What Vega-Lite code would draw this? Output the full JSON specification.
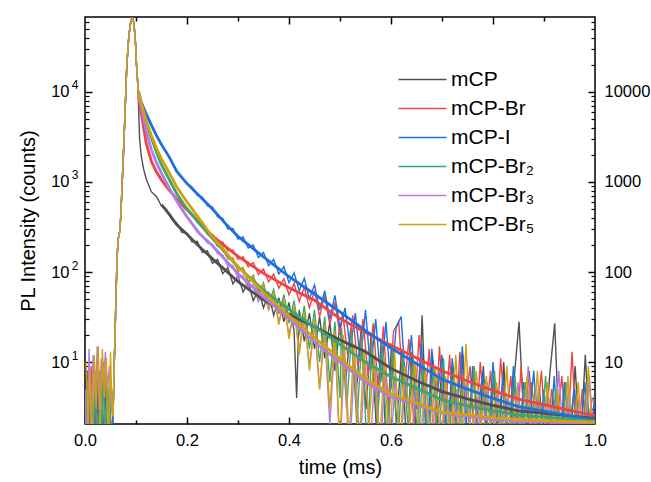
{
"$schema":"https://vega.github.io/schema/vega-lite/v6.json",
"width":510,"height":407,
"autosize":{"type":"none"},
"padding":{"left":85,"top":17,"right":56,"bottom":58},
"config":{"font":"Liberation Sans","view":{"stroke":"#000","strokeWidth":1.5},"axis":{"grid":false,"domain":false,"labelColor":"#000","titleColor":"#000","tickColor":"#000"}},
"datasets":{
"raw":[
{"s":"mCP","t":0,"v":1},{"s":"mCP","t":0.004,"v":8},{"s":"mCP","t":0.008,"v":1},{"s":"mCP","t":0.012,"v":6},{"s":"mCP","t":0.016,"v":10},{"s":"mCP","t":0.02,"v":1},{"s":"mCP","t":0.024,"v":5},{"s":"mCP","t":0.028,"v":1},{"s":"mCP","t":0.032,"v":9},{"s":"mCP","t":0.036,"v":1},{"s":"mCP","t":0.04,"v":7},{"s":"mCP","t":0.044,"v":1},{"s":"mCP","t":0.048,"v":4},{"s":"mCP","t":0.052,"v":1},
{"s":"mCP","t":0.055,"v":2.5},{"s":"mCP","t":0.057,"v":8},{"s":"mCP","t":0.059,"v":21},{"s":"mCP","t":0.061,"v":60},{"s":"mCP","t":0.063,"v":150},{"s":"mCP","t":0.065,"v":230},{"s":"mCP","t":0.068,"v":280},{"s":"mCP","t":0.07,"v":400},{"s":"mCP","t":0.073,"v":1000},{"s":"mCP","t":0.076,"v":2500},{"s":"mCP","t":0.079,"v":7000},{"s":"mCP","t":0.082,"v":20000},{"s":"mCP","t":0.086,"v":42000},{"s":"mCP","t":0.09,"v":62000},{"s":"mCP","t":0.093,"v":66000},{"s":"mCP","t":0.096,"v":58000},{"s":"mCP","t":0.099,"v":35000},{"s":"mCP","t":0.101,"v":20000},{"s":"mCP","t":0.104,"v":11000},
{"s":"mCP","t":0.107,"v":3000},{"s":"mCP","t":0.11,"v":2000},{"s":"mCP","t":0.115,"v":1380},{"s":"mCP","t":0.12,"v":1080},{"s":"mCP","t":0.13,"v":780},{"s":"mCP","t":0.14,"v":690},{"s":"mCP","t":0.15,"v":540},{"s":"mCP","t":0.16,"v":495},{"s":"mCP","t":0.17,"v":385},{"s":"mCP","t":0.18,"v":350},{"s":"mCP","t":0.19,"v":275},{"s":"mCP","t":0.2,"v":270},
{"s":"mCP","t":0.21,"v":215},{"s":"mCP","t":0.22,"v":220},{"s":"mCP","t":0.23,"v":165},{"s":"mCP","t":0.24,"v":172},{"s":"mCP","t":0.25,"v":125},{"s":"mCP","t":0.26,"v":138},{"s":"mCP","t":0.27,"v":96},{"s":"mCP","t":0.28,"v":112},{"s":"mCP","t":0.29,"v":74},{"s":"mCP","t":0.3,"v":90},{"s":"mCP","t":0.31,"v":60},{"s":"mCP","t":0.32,"v":76},{"s":"mCP","t":0.33,"v":48},{"s":"mCP","t":0.34,"v":64},{"s":"mCP","t":0.35,"v":40},{"s":"mCP","t":0.36,"v":58},{"s":"mCP","t":0.37,"v":33},{"s":"mCP","t":0.38,"v":52},{"s":"mCP","t":0.39,"v":28},{"s":"mCP","t":0.4,"v":46},{"s":"mCP","t":0.41,"v":22},{"s":"mCP","t":0.415,"v":4},{"s":"mCP","t":0.42,"v":38},{"s":"mCP","t":0.43,"v":17},{"s":"mCP","t":0.44,"v":35},{"s":"mCP","t":0.45,"v":14},{"s":"mCP","t":0.46,"v":32},{"s":"mCP","t":0.47,"v":11},{"s":"mCP","t":0.48,"v":28},{"s":"mCP","t":0.49,"v":8},{"s":"mCP","t":0.5,"v":26},
{"s":"mCP","t":0.511,"v":6},{"s":"mCP","t":0.521,"v":24},{"s":"mCP","t":0.531,"v":4},{"s":"mCP","t":0.541,"v":22},{"s":"mCP","t":0.551,"v":3},{"s":"mCP","t":0.561,"v":20},{"s":"mCP","t":0.571,"v":2},{"s":"mCP","t":0.581,"v":18},{"s":"mCP","t":0.591,"v":1},{"s":"mCP","t":0.601,"v":16},{"s":"mCP","t":0.611,"v":2},{"s":"mCP","t":0.621,"v":14},{"s":"mCP","t":0.631,"v":1},{"s":"mCP","t":0.641,"v":13},{"s":"mCP","t":0.651,"v":1},{"s":"mCP","t":0.661,"v":33},{"s":"mCP","t":0.671,"v":1},{"s":"mCP","t":0.681,"v":11},{"s":"mCP","t":0.691,"v":2},{"s":"mCP","t":0.701,"v":10},{"s":"mCP","t":0.711,"v":1},{"s":"mCP","t":0.721,"v":9},{"s":"mCP","t":0.731,"v":1},{"s":"mCP","t":0.741,"v":12},{"s":"mCP","t":0.751,"v":1},{"s":"mCP","t":0.761,"v":8},{"s":"mCP","t":0.771,"v":1},{"s":"mCP","t":0.781,"v":9},{"s":"mCP","t":0.791,"v":1},{"s":"mCP","t":0.801,"v":7},{"s":"mCP","t":0.811,"v":1},{"s":"mCP","t":0.821,"v":10},{"s":"mCP","t":0.831,"v":1},{"s":"mCP","t":0.841,"v":6},{"s":"mCP","t":0.851,"v":28},{"s":"mCP","t":0.861,"v":2},{"s":"mCP","t":0.871,"v":8},{"s":"mCP","t":0.881,"v":1},{"s":"mCP","t":0.891,"v":5},{"s":"mCP","t":0.901,"v":1},{"s":"mCP","t":0.911,"v":7},{"s":"mCP","t":0.921,"v":27},{"s":"mCP","t":0.931,"v":1},{"s":"mCP","t":0.941,"v":6},{"s":"mCP","t":0.951,"v":1},{"s":"mCP","t":0.961,"v":9},{"s":"mCP","t":0.971,"v":1},{"s":"mCP","t":0.981,"v":12},{"s":"mCP","t":0.991,"v":1},{"s":"mCP","t":1.0,"v":5},

{"s":"mCP-Br","t":0,"v":1},{"s":"mCP-Br","t":0.004,"v":3},{"s":"mCP-Br","t":0.008,"v":1},{"s":"mCP-Br","t":0.012,"v":9},{"s":"mCP-Br","t":0.016,"v":1},{"s":"mCP-Br","t":0.02,"v":5},{"s":"mCP-Br","t":0.024,"v":1},{"s":"mCP-Br","t":0.028,"v":8},{"s":"mCP-Br","t":0.032,"v":1},{"s":"mCP-Br","t":0.036,"v":10},{"s":"mCP-Br","t":0.04,"v":1},{"s":"mCP-Br","t":0.044,"v":6},{"s":"mCP-Br","t":0.048,"v":1},{"s":"mCP-Br","t":0.052,"v":2},
{"s":"mCP-Br","t":0.055,"v":2.5},{"s":"mCP-Br","t":0.057,"v":8},{"s":"mCP-Br","t":0.059,"v":21},{"s":"mCP-Br","t":0.061,"v":60},{"s":"mCP-Br","t":0.063,"v":150},{"s":"mCP-Br","t":0.065,"v":230},{"s":"mCP-Br","t":0.068,"v":280},{"s":"mCP-Br","t":0.07,"v":400},{"s":"mCP-Br","t":0.073,"v":1000},{"s":"mCP-Br","t":0.076,"v":2500},{"s":"mCP-Br","t":0.079,"v":7000},{"s":"mCP-Br","t":0.082,"v":20000},{"s":"mCP-Br","t":0.086,"v":42000},{"s":"mCP-Br","t":0.09,"v":62000},{"s":"mCP-Br","t":0.093,"v":66000},{"s":"mCP-Br","t":0.096,"v":58000},{"s":"mCP-Br","t":0.099,"v":35000},{"s":"mCP-Br","t":0.101,"v":20000},{"s":"mCP-Br","t":0.104,"v":11000},
{"s":"mCP-Br","t":0.107,"v":7600},{"s":"mCP-Br","t":0.11,"v":5900},{"s":"mCP-Br","t":0.115,"v":4100},{"s":"mCP-Br","t":0.12,"v":2700},{"s":"mCP-Br","t":0.13,"v":1700},{"s":"mCP-Br","t":0.14,"v":1300},{"s":"mCP-Br","t":0.15,"v":1050},{"s":"mCP-Br","t":0.16,"v":880},{"s":"mCP-Br","t":0.17,"v":750},{"s":"mCP-Br","t":0.18,"v":650},{"s":"mCP-Br","t":0.19,"v":560},{"s":"mCP-Br","t":0.2,"v":490},
{"s":"mCP-Br","t":0.21,"v":445},{"s":"mCP-Br","t":0.22,"v":362},{"s":"mCP-Br","t":0.23,"v":340},{"s":"mCP-Br","t":0.24,"v":275},{"s":"mCP-Br","t":0.25,"v":262},{"s":"mCP-Br","t":0.26,"v":215},{"s":"mCP-Br","t":0.27,"v":214},{"s":"mCP-Br","t":0.28,"v":172},{"s":"mCP-Br","t":0.29,"v":176},{"s":"mCP-Br","t":0.3,"v":138},{"s":"mCP-Br","t":0.31,"v":148},{"s":"mCP-Br","t":0.32,"v":114},{"s":"mCP-Br","t":0.33,"v":127},{"s":"mCP-Br","t":0.34,"v":94},{"s":"mCP-Br","t":0.35,"v":108},{"s":"mCP-Br","t":0.36,"v":78},{"s":"mCP-Br","t":0.37,"v":95},{"s":"mCP-Br","t":0.38,"v":66},{"s":"mCP-Br","t":0.39,"v":84},{"s":"mCP-Br","t":0.4,"v":56},{"s":"mCP-Br","t":0.41,"v":75},{"s":"mCP-Br","t":0.42,"v":47},{"s":"mCP-Br","t":0.43,"v":68},{"s":"mCP-Br","t":0.44,"v":40},{"s":"mCP-Br","t":0.45,"v":62},{"s":"mCP-Br","t":0.46,"v":32},{"s":"mCP-Br","t":0.47,"v":55},{"s":"mCP-Br","t":0.48,"v":26},{"s":"mCP-Br","t":0.49,"v":46},{"s":"mCP-Br","t":0.5,"v":20},
{"s":"mCP-Br","t":0.505,"v":36},{"s":"mCP-Br","t":0.515,"v":12},{"s":"mCP-Br","t":0.525,"v":33},{"s":"mCP-Br","t":0.535,"v":9},{"s":"mCP-Br","t":0.545,"v":30},{"s":"mCP-Br","t":0.555,"v":7},{"s":"mCP-Br","t":0.565,"v":27},{"s":"mCP-Br","t":0.575,"v":5},{"s":"mCP-Br","t":0.585,"v":25},{"s":"mCP-Br","t":0.595,"v":3},{"s":"mCP-Br","t":0.605,"v":22},{"s":"mCP-Br","t":0.615,"v":28},{"s":"mCP-Br","t":0.625,"v":4},{"s":"mCP-Br","t":0.635,"v":18},{"s":"mCP-Br","t":0.645,"v":2},{"s":"mCP-Br","t":0.655,"v":20},{"s":"mCP-Br","t":0.665,"v":3},{"s":"mCP-Br","t":0.675,"v":14},{"s":"mCP-Br","t":0.685,"v":1},{"s":"mCP-Br","t":0.695,"v":15},{"s":"mCP-Br","t":0.705,"v":2},{"s":"mCP-Br","t":0.715,"v":12},{"s":"mCP-Br","t":0.725,"v":1},{"s":"mCP-Br","t":0.735,"v":13},{"s":"mCP-Br","t":0.745,"v":3},{"s":"mCP-Br","t":0.755,"v":9},{"s":"mCP-Br","t":0.765,"v":1},{"s":"mCP-Br","t":0.775,"v":10},{"s":"mCP-Br","t":0.785,"v":2},{"s":"mCP-Br","t":0.795,"v":8},{"s":"mCP-Br","t":0.805,"v":1},{"s":"mCP-Br","t":0.815,"v":11},{"s":"mCP-Br","t":0.825,"v":2},{"s":"mCP-Br","t":0.835,"v":7},{"s":"mCP-Br","t":0.845,"v":1},{"s":"mCP-Br","t":0.855,"v":9},{"s":"mCP-Br","t":0.865,"v":1},{"s":"mCP-Br","t":0.875,"v":6},{"s":"mCP-Br","t":0.885,"v":2},{"s":"mCP-Br","t":0.895,"v":8},{"s":"mCP-Br","t":0.905,"v":1},{"s":"mCP-Br","t":0.915,"v":5},{"s":"mCP-Br","t":0.925,"v":2},{"s":"mCP-Br","t":0.935,"v":7},{"s":"mCP-Br","t":0.945,"v":1},{"s":"mCP-Br","t":0.955,"v":13},{"s":"mCP-Br","t":0.965,"v":1},{"s":"mCP-Br","t":0.975,"v":5},{"s":"mCP-Br","t":0.985,"v":2},{"s":"mCP-Br","t":0.995,"v":4},

{"s":"mCP-I","t":0,"v":2},{"s":"mCP-I","t":0.004,"v":1},{"s":"mCP-I","t":0.008,"v":7},{"s":"mCP-I","t":0.012,"v":1},{"s":"mCP-I","t":0.016,"v":4},{"s":"mCP-I","t":0.02,"v":1},{"s":"mCP-I","t":0.024,"v":9},{"s":"mCP-I","t":0.028,"v":1},{"s":"mCP-I","t":0.032,"v":3},{"s":"mCP-I","t":0.036,"v":1},{"s":"mCP-I","t":0.04,"v":8},{"s":"mCP-I","t":0.044,"v":1},{"s":"mCP-I","t":0.048,"v":5},{"s":"mCP-I","t":0.052,"v":1},
{"s":"mCP-I","t":0.055,"v":2.5},{"s":"mCP-I","t":0.057,"v":8},{"s":"mCP-I","t":0.059,"v":21},{"s":"mCP-I","t":0.061,"v":60},{"s":"mCP-I","t":0.063,"v":150},{"s":"mCP-I","t":0.065,"v":230},{"s":"mCP-I","t":0.068,"v":280},{"s":"mCP-I","t":0.07,"v":400},{"s":"mCP-I","t":0.073,"v":1000},{"s":"mCP-I","t":0.076,"v":2500},{"s":"mCP-I","t":0.079,"v":7000},{"s":"mCP-I","t":0.082,"v":20000},{"s":"mCP-I","t":0.086,"v":42000},{"s":"mCP-I","t":0.09,"v":62000},{"s":"mCP-I","t":0.093,"v":66000},{"s":"mCP-I","t":0.096,"v":58000},{"s":"mCP-I","t":0.099,"v":35000},{"s":"mCP-I","t":0.101,"v":20000},{"s":"mCP-I","t":0.104,"v":11000},
{"s":"mCP-I","t":0.107,"v":8800},{"s":"mCP-I","t":0.11,"v":7800},{"s":"mCP-I","t":0.115,"v":6700},{"s":"mCP-I","t":0.12,"v":5700},{"s":"mCP-I","t":0.13,"v":4300},{"s":"mCP-I","t":0.14,"v":3300},{"s":"mCP-I","t":0.15,"v":2600},{"s":"mCP-I","t":0.16,"v":2100},{"s":"mCP-I","t":0.17,"v":1700},{"s":"mCP-I","t":0.18,"v":1310},{"s":"mCP-I","t":0.19,"v":1110},{"s":"mCP-I","t":0.2,"v":960},
{"s":"mCP-I","t":0.21,"v":880},{"s":"mCP-I","t":0.22,"v":715},{"s":"mCP-I","t":0.23,"v":680},{"s":"mCP-I","t":0.24,"v":545},{"s":"mCP-I","t":0.25,"v":525},{"s":"mCP-I","t":0.26,"v":410},{"s":"mCP-I","t":0.27,"v":395},{"s":"mCP-I","t":0.28,"v":300},{"s":"mCP-I","t":0.29,"v":305},{"s":"mCP-I","t":0.3,"v":232},{"s":"mCP-I","t":0.31,"v":245},{"s":"mCP-I","t":0.32,"v":185},{"s":"mCP-I","t":0.33,"v":200},{"s":"mCP-I","t":0.34,"v":145},{"s":"mCP-I","t":0.35,"v":165},{"s":"mCP-I","t":0.36,"v":118},{"s":"mCP-I","t":0.37,"v":138},{"s":"mCP-I","t":0.38,"v":95},{"s":"mCP-I","t":0.39,"v":115},{"s":"mCP-I","t":0.4,"v":76},{"s":"mCP-I","t":0.41,"v":98},{"s":"mCP-I","t":0.42,"v":62},{"s":"mCP-I","t":0.43,"v":85},{"s":"mCP-I","t":0.44,"v":50},{"s":"mCP-I","t":0.45,"v":72},{"s":"mCP-I","t":0.46,"v":38},{"s":"mCP-I","t":0.47,"v":62},{"s":"mCP-I","t":0.48,"v":30},{"s":"mCP-I","t":0.49,"v":55},{"s":"mCP-I","t":0.5,"v":24},
{"s":"mCP-I","t":0.51,"v":40},{"s":"mCP-I","t":0.52,"v":14},{"s":"mCP-I","t":0.53,"v":35},{"s":"mCP-I","t":0.54,"v":10},{"s":"mCP-I","t":0.55,"v":38},{"s":"mCP-I","t":0.56,"v":8},{"s":"mCP-I","t":0.57,"v":30},{"s":"mCP-I","t":0.58,"v":6},{"s":"mCP-I","t":0.59,"v":28},{"s":"mCP-I","t":0.6,"v":5},{"s":"mCP-I","t":0.61,"v":24},{"s":"mCP-I","t":0.62,"v":32},{"s":"mCP-I","t":0.63,"v":4},{"s":"mCP-I","t":0.64,"v":20},{"s":"mCP-I","t":0.65,"v":3},{"s":"mCP-I","t":0.66,"v":16},{"s":"mCP-I","t":0.67,"v":1},{"s":"mCP-I","t":0.68,"v":14},{"s":"mCP-I","t":0.69,"v":4},{"s":"mCP-I","t":0.7,"v":12},{"s":"mCP-I","t":0.71,"v":1},{"s":"mCP-I","t":0.72,"v":11},{"s":"mCP-I","t":0.73,"v":3},{"s":"mCP-I","t":0.74,"v":15},{"s":"mCP-I","t":0.75,"v":1},{"s":"mCP-I","t":0.76,"v":9},{"s":"mCP-I","t":0.77,"v":2.5},{"s":"mCP-I","t":0.78,"v":8},{"s":"mCP-I","t":0.79,"v":1},{"s":"mCP-I","t":0.8,"v":10},{"s":"mCP-I","t":0.81,"v":2},{"s":"mCP-I","t":0.82,"v":7},{"s":"mCP-I","t":0.83,"v":1},{"s":"mCP-I","t":0.84,"v":9},{"s":"mCP-I","t":0.85,"v":1},{"s":"mCP-I","t":0.86,"v":6},{"s":"mCP-I","t":0.87,"v":2},{"s":"mCP-I","t":0.88,"v":8},{"s":"mCP-I","t":0.89,"v":1},{"s":"mCP-I","t":0.9,"v":5},{"s":"mCP-I","t":0.91,"v":1},{"s":"mCP-I","t":0.92,"v":7},{"s":"mCP-I","t":0.93,"v":1},{"s":"mCP-I","t":0.94,"v":6},{"s":"mCP-I","t":0.95,"v":2},{"s":"mCP-I","t":0.96,"v":5},{"s":"mCP-I","t":0.97,"v":1},{"s":"mCP-I","t":0.98,"v":6},{"s":"mCP-I","t":0.99,"v":1},{"s":"mCP-I","t":1.0,"v":4},

{"s":"mCP-Br₂","t":0,"v":1},{"s":"mCP-Br₂","t":0.004,"v":6},{"s":"mCP-Br₂","t":0.008,"v":1},{"s":"mCP-Br₂","t":0.012,"v":4},{"s":"mCP-Br₂","t":0.016,"v":1},{"s":"mCP-Br₂","t":0.02,"v":8},{"s":"mCP-Br₂","t":0.024,"v":1},{"s":"mCP-Br₂","t":0.028,"v":3},{"s":"mCP-Br₂","t":0.032,"v":1},{"s":"mCP-Br₂","t":0.036,"v":9},{"s":"mCP-Br₂","t":0.04,"v":1},{"s":"mCP-Br₂","t":0.044,"v":7},{"s":"mCP-Br₂","t":0.048,"v":1},{"s":"mCP-Br₂","t":0.052,"v":5},
{"s":"mCP-Br₂","t":0.055,"v":2.5},{"s":"mCP-Br₂","t":0.057,"v":8},{"s":"mCP-Br₂","t":0.059,"v":21},{"s":"mCP-Br₂","t":0.061,"v":60},{"s":"mCP-Br₂","t":0.063,"v":150},{"s":"mCP-Br₂","t":0.065,"v":230},{"s":"mCP-Br₂","t":0.068,"v":280},{"s":"mCP-Br₂","t":0.07,"v":400},{"s":"mCP-Br₂","t":0.073,"v":1000},{"s":"mCP-Br₂","t":0.076,"v":2500},{"s":"mCP-Br₂","t":0.079,"v":7000},{"s":"mCP-Br₂","t":0.082,"v":20000},{"s":"mCP-Br₂","t":0.086,"v":42000},{"s":"mCP-Br₂","t":0.09,"v":62000},{"s":"mCP-Br₂","t":0.093,"v":66000},{"s":"mCP-Br₂","t":0.096,"v":58000},{"s":"mCP-Br₂","t":0.099,"v":35000},{"s":"mCP-Br₂","t":0.101,"v":20000},{"s":"mCP-Br₂","t":0.104,"v":11000},
{"s":"mCP-Br₂","t":0.107,"v":9000},{"s":"mCP-Br₂","t":0.11,"v":7500},{"s":"mCP-Br₂","t":0.115,"v":5800},{"s":"mCP-Br₂","t":0.12,"v":4600},{"s":"mCP-Br₂","t":0.13,"v":3100},{"s":"mCP-Br₂","t":0.14,"v":2150},{"s":"mCP-Br₂","t":0.15,"v":1550},{"s":"mCP-Br₂","t":0.16,"v":1200},{"s":"mCP-Br₂","t":0.17,"v":940},{"s":"mCP-Br₂","t":0.18,"v":740},{"s":"mCP-Br₂","t":0.19,"v":600},{"s":"mCP-Br₂","t":0.2,"v":505},
{"s":"mCP-Br₂","t":0.21,"v":445},{"s":"mCP-Br₂","t":0.22,"v":355},{"s":"mCP-Br₂","t":0.23,"v":328},{"s":"mCP-Br₂","t":0.24,"v":262},{"s":"mCP-Br₂","t":0.25,"v":246},{"s":"mCP-Br₂","t":0.26,"v":192},{"s":"mCP-Br₂","t":0.27,"v":186},{"s":"mCP-Br₂","t":0.28,"v":140},{"s":"mCP-Br₂","t":0.29,"v":142},{"s":"mCP-Br₂","t":0.3,"v":102},{"s":"mCP-Br₂","t":0.31,"v":112},{"s":"mCP-Br₂","t":0.32,"v":78},{"s":"mCP-Br₂","t":0.33,"v":92},{"s":"mCP-Br₂","t":0.34,"v":58},{"s":"mCP-Br₂","t":0.35,"v":76},{"s":"mCP-Br₂","t":0.36,"v":44},{"s":"mCP-Br₂","t":0.37,"v":64},{"s":"mCP-Br₂","t":0.38,"v":34},{"s":"mCP-Br₂","t":0.39,"v":56},{"s":"mCP-Br₂","t":0.4,"v":27},{"s":"mCP-Br₂","t":0.41,"v":48},{"s":"mCP-Br₂","t":0.42,"v":20},{"s":"mCP-Br₂","t":0.43,"v":42},{"s":"mCP-Br₂","t":0.44,"v":14},{"s":"mCP-Br₂","t":0.45,"v":38},{"s":"mCP-Br₂","t":0.46,"v":10},{"s":"mCP-Br₂","t":0.47,"v":32},{"s":"mCP-Br₂","t":0.48,"v":6},{"s":"mCP-Br₂","t":0.49,"v":28},{"s":"mCP-Br₂","t":0.5,"v":4},
{"s":"mCP-Br₂","t":0.503,"v":24},{"s":"mCP-Br₂","t":0.513,"v":3},{"s":"mCP-Br₂","t":0.523,"v":22},{"s":"mCP-Br₂","t":0.533,"v":2},{"s":"mCP-Br₂","t":0.543,"v":19},{"s":"mCP-Br₂","t":0.553,"v":1},{"s":"mCP-Br₂","t":0.563,"v":17},{"s":"mCP-Br₂","t":0.573,"v":2},{"s":"mCP-Br₂","t":0.583,"v":15},{"s":"mCP-Br₂","t":0.593,"v":1},{"s":"mCP-Br₂","t":0.603,"v":14},{"s":"mCP-Br₂","t":0.613,"v":1},{"s":"mCP-Br₂","t":0.623,"v":12},{"s":"mCP-Br₂","t":0.633,"v":2},{"s":"mCP-Br₂","t":0.643,"v":11},{"s":"mCP-Br₂","t":0.653,"v":1},{"s":"mCP-Br₂","t":0.663,"v":10},{"s":"mCP-Br₂","t":0.673,"v":1},{"s":"mCP-Br₂","t":0.683,"v":9},{"s":"mCP-Br₂","t":0.693,"v":1},{"s":"mCP-Br₂","t":0.703,"v":11},{"s":"mCP-Br₂","t":0.713,"v":1},{"s":"mCP-Br₂","t":0.723,"v":8},{"s":"mCP-Br₂","t":0.733,"v":1},{"s":"mCP-Br₂","t":0.743,"v":7},{"s":"mCP-Br₂","t":0.753,"v":2},{"s":"mCP-Br₂","t":0.763,"v":9},{"s":"mCP-Br₂","t":0.773,"v":1},{"s":"mCP-Br₂","t":0.783,"v":6},{"s":"mCP-Br₂","t":0.793,"v":1},{"s":"mCP-Br₂","t":0.803,"v":8},{"s":"mCP-Br₂","t":0.813,"v":1},{"s":"mCP-Br₂","t":0.823,"v":5},{"s":"mCP-Br₂","t":0.833,"v":1},{"s":"mCP-Br₂","t":0.843,"v":7},{"s":"mCP-Br₂","t":0.853,"v":1},{"s":"mCP-Br₂","t":0.863,"v":6},{"s":"mCP-Br₂","t":0.873,"v":2},{"s":"mCP-Br₂","t":0.883,"v":5},{"s":"mCP-Br₂","t":0.893,"v":1},{"s":"mCP-Br₂","t":0.903,"v":7},{"s":"mCP-Br₂","t":0.913,"v":1},{"s":"mCP-Br₂","t":0.923,"v":5},{"s":"mCP-Br₂","t":0.933,"v":1},{"s":"mCP-Br₂","t":0.943,"v":6},{"s":"mCP-Br₂","t":0.953,"v":1},{"s":"mCP-Br₂","t":0.963,"v":4},{"s":"mCP-Br₂","t":0.973,"v":1},{"s":"mCP-Br₂","t":0.983,"v":5},{"s":"mCP-Br₂","t":0.993,"v":1},

{"s":"mCP-Br₃","t":0,"v":5},{"s":"mCP-Br₃","t":0.004,"v":1},{"s":"mCP-Br₃","t":0.008,"v":14},{"s":"mCP-Br₃","t":0.012,"v":2},{"s":"mCP-Br₃","t":0.016,"v":12},{"s":"mCP-Br₃","t":0.02,"v":4},{"s":"mCP-Br₃","t":0.024,"v":15},{"s":"mCP-Br₃","t":0.028,"v":3},{"s":"mCP-Br₃","t":0.032,"v":11},{"s":"mCP-Br₃","t":0.036,"v":6},{"s":"mCP-Br₃","t":0.04,"v":13},{"s":"mCP-Br₃","t":0.044,"v":5},{"s":"mCP-Br₃","t":0.048,"v":9},{"s":"mCP-Br₃","t":0.052,"v":3},
{"s":"mCP-Br₃","t":0.055,"v":2.5},{"s":"mCP-Br₃","t":0.057,"v":8},{"s":"mCP-Br₃","t":0.059,"v":21},{"s":"mCP-Br₃","t":0.061,"v":60},{"s":"mCP-Br₃","t":0.063,"v":150},{"s":"mCP-Br₃","t":0.065,"v":230},{"s":"mCP-Br₃","t":0.068,"v":280},{"s":"mCP-Br₃","t":0.07,"v":400},{"s":"mCP-Br₃","t":0.073,"v":1000},{"s":"mCP-Br₃","t":0.076,"v":2500},{"s":"mCP-Br₃","t":0.079,"v":7000},{"s":"mCP-Br₃","t":0.082,"v":20000},{"s":"mCP-Br₃","t":0.086,"v":42000},{"s":"mCP-Br₃","t":0.09,"v":62000},{"s":"mCP-Br₃","t":0.093,"v":66000},{"s":"mCP-Br₃","t":0.096,"v":58000},{"s":"mCP-Br₃","t":0.099,"v":35000},{"s":"mCP-Br₃","t":0.101,"v":20000},{"s":"mCP-Br₃","t":0.104,"v":11000},
{"s":"mCP-Br₃","t":0.107,"v":8500},{"s":"mCP-Br₃","t":0.11,"v":6800},{"s":"mCP-Br₃","t":0.115,"v":4800},{"s":"mCP-Br₃","t":0.12,"v":3700},{"s":"mCP-Br₃","t":0.13,"v":2300},{"s":"mCP-Br₃","t":0.14,"v":1650},{"s":"mCP-Br₃","t":0.15,"v":1250},{"s":"mCP-Br₃","t":0.16,"v":960},{"s":"mCP-Br₃","t":0.17,"v":760},{"s":"mCP-Br₃","t":0.18,"v":610},{"s":"mCP-Br₃","t":0.19,"v":490},{"s":"mCP-Br₃","t":0.2,"v":410},
{"s":"mCP-Br₃","t":0.21,"v":350},{"s":"mCP-Br₃","t":0.22,"v":276},{"s":"mCP-Br₃","t":0.23,"v":258},{"s":"mCP-Br₃","t":0.24,"v":210},{"s":"mCP-Br₃","t":0.25,"v":204},{"s":"mCP-Br₃","t":0.26,"v":160},{"s":"mCP-Br₃","t":0.27,"v":155},{"s":"mCP-Br₃","t":0.28,"v":116},{"s":"mCP-Br₃","t":0.29,"v":118},{"s":"mCP-Br₃","t":0.3,"v":85},{"s":"mCP-Br₃","t":0.31,"v":92},{"s":"mCP-Br₃","t":0.32,"v":63},{"s":"mCP-Br₃","t":0.33,"v":72},{"s":"mCP-Br₃","t":0.34,"v":47},{"s":"mCP-Br₃","t":0.35,"v":62},{"s":"mCP-Br₃","t":0.36,"v":38},{"s":"mCP-Br₃","t":0.37,"v":52},{"s":"mCP-Br₃","t":0.38,"v":28},{"s":"mCP-Br₃","t":0.39,"v":44},{"s":"mCP-Br₃","t":0.4,"v":20},{"s":"mCP-Br₃","t":0.41,"v":36},{"s":"mCP-Br₃","t":0.42,"v":14},{"s":"mCP-Br₃","t":0.43,"v":30},{"s":"mCP-Br₃","t":0.44,"v":9},{"s":"mCP-Br₃","t":0.45,"v":26},{"s":"mCP-Br₃","t":0.46,"v":5},{"s":"mCP-Br₃","t":0.47,"v":22},{"s":"mCP-Br₃","t":0.48,"v":2},{"s":"mCP-Br₃","t":0.49,"v":18},{"s":"mCP-Br₃","t":0.5,"v":1},
{"s":"mCP-Br₃","t":0.509,"v":14},{"s":"mCP-Br₃","t":0.519,"v":1},{"s":"mCP-Br₃","t":0.529,"v":12},{"s":"mCP-Br₃","t":0.539,"v":1},{"s":"mCP-Br₃","t":0.549,"v":10},{"s":"mCP-Br₃","t":0.559,"v":1},{"s":"mCP-Br₃","t":0.569,"v":9},{"s":"mCP-Br₃","t":0.579,"v":1},{"s":"mCP-Br₃","t":0.589,"v":8},{"s":"mCP-Br₃","t":0.599,"v":1},{"s":"mCP-Br₃","t":0.609,"v":7},{"s":"mCP-Br₃","t":0.619,"v":1},{"s":"mCP-Br₃","t":0.629,"v":9},{"s":"mCP-Br₃","t":0.639,"v":1},{"s":"mCP-Br₃","t":0.649,"v":6},{"s":"mCP-Br₃","t":0.659,"v":1},{"s":"mCP-Br₃","t":0.669,"v":7},{"s":"mCP-Br₃","t":0.679,"v":1},{"s":"mCP-Br₃","t":0.689,"v":5},{"s":"mCP-Br₃","t":0.699,"v":1},{"s":"mCP-Br₃","t":0.709,"v":6},{"s":"mCP-Br₃","t":0.719,"v":1},{"s":"mCP-Br₃","t":0.729,"v":5},{"s":"mCP-Br₃","t":0.739,"v":1},{"s":"mCP-Br₃","t":0.749,"v":7},{"s":"mCP-Br₃","t":0.759,"v":1},{"s":"mCP-Br₃","t":0.769,"v":4},{"s":"mCP-Br₃","t":0.779,"v":1},{"s":"mCP-Br₃","t":0.789,"v":6},{"s":"mCP-Br₃","t":0.799,"v":1},{"s":"mCP-Br₃","t":0.809,"v":5},{"s":"mCP-Br₃","t":0.819,"v":1},{"s":"mCP-Br₃","t":0.829,"v":4},{"s":"mCP-Br₃","t":0.839,"v":1},{"s":"mCP-Br₃","t":0.849,"v":6},{"s":"mCP-Br₃","t":0.859,"v":1},{"s":"mCP-Br₃","t":0.869,"v":9},{"s":"mCP-Br₃","t":0.879,"v":1},{"s":"mCP-Br₃","t":0.889,"v":5},{"s":"mCP-Br₃","t":0.899,"v":1},{"s":"mCP-Br₃","t":0.909,"v":4},{"s":"mCP-Br₃","t":0.919,"v":1},{"s":"mCP-Br₃","t":0.929,"v":8},{"s":"mCP-Br₃","t":0.939,"v":1},{"s":"mCP-Br₃","t":0.949,"v":5},{"s":"mCP-Br₃","t":0.959,"v":1},{"s":"mCP-Br₃","t":0.969,"v":4},{"s":"mCP-Br₃","t":0.979,"v":1},{"s":"mCP-Br₃","t":0.989,"v":7},{"s":"mCP-Br₃","t":0.999,"v":1},

{"s":"mCP-Br₅","t":0.002,"v":10},{"s":"mCP-Br₅","t":0.006,"v":2},{"s":"mCP-Br₅","t":0.01,"v":8},{"s":"mCP-Br₅","t":0.014,"v":1},{"s":"mCP-Br₅","t":0.018,"v":12},{"s":"mCP-Br₅","t":0.022,"v":3},{"s":"mCP-Br₅","t":0.026,"v":15},{"s":"mCP-Br₅","t":0.03,"v":2},{"s":"mCP-Br₅","t":0.034,"v":14},{"s":"mCP-Br₅","t":0.038,"v":4},{"s":"mCP-Br₅","t":0.042,"v":11},{"s":"mCP-Br₅","t":0.046,"v":1},{"s":"mCP-Br₅","t":0.05,"v":13},{"s":"mCP-Br₅","t":0.053,"v":3},
{"s":"mCP-Br₅","t":0.055,"v":2.5},{"s":"mCP-Br₅","t":0.057,"v":8},{"s":"mCP-Br₅","t":0.059,"v":21},{"s":"mCP-Br₅","t":0.061,"v":60},{"s":"mCP-Br₅","t":0.063,"v":150},{"s":"mCP-Br₅","t":0.065,"v":230},{"s":"mCP-Br₅","t":0.068,"v":280},{"s":"mCP-Br₅","t":0.07,"v":400},{"s":"mCP-Br₅","t":0.073,"v":1000},{"s":"mCP-Br₅","t":0.076,"v":2500},{"s":"mCP-Br₅","t":0.079,"v":7000},{"s":"mCP-Br₅","t":0.082,"v":20000},{"s":"mCP-Br₅","t":0.086,"v":42000},{"s":"mCP-Br₅","t":0.09,"v":62000},{"s":"mCP-Br₅","t":0.093,"v":66000},{"s":"mCP-Br₅","t":0.096,"v":58000},{"s":"mCP-Br₅","t":0.099,"v":35000},{"s":"mCP-Br₅","t":0.101,"v":20000},{"s":"mCP-Br₅","t":0.104,"v":11000},
{"s":"mCP-Br₅","t":0.107,"v":9000},{"s":"mCP-Br₅","t":0.11,"v":7600},{"s":"mCP-Br₅","t":0.115,"v":6000},{"s":"mCP-Br₅","t":0.12,"v":4800},{"s":"mCP-Br₅","t":0.13,"v":3300},{"s":"mCP-Br₅","t":0.14,"v":2400},{"s":"mCP-Br₅","t":0.15,"v":1800},{"s":"mCP-Br₅","t":0.16,"v":1420},{"s":"mCP-Br₅","t":0.17,"v":1120},{"s":"mCP-Br₅","t":0.18,"v":880},{"s":"mCP-Br₅","t":0.19,"v":720},{"s":"mCP-Br₅","t":0.2,"v":600},
{"s":"mCP-Br₅","t":0.21,"v":515},{"s":"mCP-Br₅","t":0.22,"v":405},{"s":"mCP-Br₅","t":0.23,"v":362},{"s":"mCP-Br₅","t":0.24,"v":280},{"s":"mCP-Br₅","t":0.25,"v":255},{"s":"mCP-Br₅","t":0.26,"v":198},{"s":"mCP-Br₅","t":0.27,"v":190},{"s":"mCP-Br₅","t":0.28,"v":142},{"s":"mCP-Br₅","t":0.29,"v":145},{"s":"mCP-Br₅","t":0.3,"v":100},{"s":"mCP-Br₅","t":0.31,"v":112},{"s":"mCP-Br₅","t":0.32,"v":74},{"s":"mCP-Br₅","t":0.33,"v":90},{"s":"mCP-Br₅","t":0.34,"v":52},{"s":"mCP-Br₅","t":0.35,"v":72},{"s":"mCP-Br₅","t":0.36,"v":38},{"s":"mCP-Br₅","t":0.37,"v":60},{"s":"mCP-Br₅","t":0.38,"v":26},{"s":"mCP-Br₅","t":0.39,"v":50},{"s":"mCP-Br₅","t":0.4,"v":18},{"s":"mCP-Br₅","t":0.41,"v":42},{"s":"mCP-Br₅","t":0.42,"v":12},{"s":"mCP-Br₅","t":0.43,"v":36},{"s":"mCP-Br₅","t":0.44,"v":8},{"s":"mCP-Br₅","t":0.45,"v":30},{"s":"mCP-Br₅","t":0.46,"v":5},{"s":"mCP-Br₅","t":0.47,"v":26},{"s":"mCP-Br₅","t":0.48,"v":3},{"s":"mCP-Br₅","t":0.49,"v":22},{"s":"mCP-Br₅","t":0.5,"v":1},
{"s":"mCP-Br₅","t":0.507,"v":20},{"s":"mCP-Br₅","t":0.517,"v":1},{"s":"mCP-Br₅","t":0.527,"v":16},{"s":"mCP-Br₅","t":0.537,"v":1},{"s":"mCP-Br₅","t":0.547,"v":14},{"s":"mCP-Br₅","t":0.557,"v":2},{"s":"mCP-Br₅","t":0.567,"v":12},{"s":"mCP-Br₅","t":0.577,"v":1},{"s":"mCP-Br₅","t":0.587,"v":11},{"s":"mCP-Br₅","t":0.597,"v":1},{"s":"mCP-Br₅","t":0.607,"v":13},{"s":"mCP-Br₅","t":0.617,"v":1},{"s":"mCP-Br₅","t":0.627,"v":9},{"s":"mCP-Br₅","t":0.637,"v":2},{"s":"mCP-Br₅","t":0.647,"v":10},{"s":"mCP-Br₅","t":0.657,"v":1},{"s":"mCP-Br₅","t":0.667,"v":8},{"s":"mCP-Br₅","t":0.677,"v":1},{"s":"mCP-Br₅","t":0.687,"v":9},{"s":"mCP-Br₅","t":0.697,"v":1},{"s":"mCP-Br₅","t":0.707,"v":7},{"s":"mCP-Br₅","t":0.717,"v":1},{"s":"mCP-Br₅","t":0.727,"v":12},{"s":"mCP-Br₅","t":0.737,"v":1},{"s":"mCP-Br₅","t":0.747,"v":16},{"s":"mCP-Br₅","t":0.757,"v":1},{"s":"mCP-Br₅","t":0.767,"v":8},{"s":"mCP-Br₅","t":0.777,"v":2},{"s":"mCP-Br₅","t":0.787,"v":7},{"s":"mCP-Br₅","t":0.797,"v":1},{"s":"mCP-Br₅","t":0.807,"v":6},{"s":"mCP-Br₅","t":0.817,"v":1},{"s":"mCP-Br₅","t":0.827,"v":9},{"s":"mCP-Br₅","t":0.837,"v":1},{"s":"mCP-Br₅","t":0.847,"v":5},{"s":"mCP-Br₅","t":0.857,"v":1},{"s":"mCP-Br₅","t":0.867,"v":7},{"s":"mCP-Br₅","t":0.877,"v":1},{"s":"mCP-Br₅","t":0.887,"v":8},{"s":"mCP-Br₅","t":0.897,"v":1},{"s":"mCP-Br₅","t":0.907,"v":6},{"s":"mCP-Br₅","t":0.917,"v":1},{"s":"mCP-Br₅","t":0.927,"v":5},{"s":"mCP-Br₅","t":0.937,"v":1},{"s":"mCP-Br₅","t":0.947,"v":7},{"s":"mCP-Br₅","t":0.957,"v":1},{"s":"mCP-Br₅","t":0.967,"v":6},{"s":"mCP-Br₅","t":0.977,"v":1},{"s":"mCP-Br₅","t":0.987,"v":9},{"s":"mCP-Br₅","t":0.997,"v":1}
],
"fit":[
{"s":"mCP","t":0.15,"v":560},{"s":"mCP","t":0.165,"v":440},{"s":"mCP","t":0.18,"v":335},{"s":"mCP","t":0.2,"v":262},{"s":"mCP","t":0.225,"v":190},{"s":"mCP","t":0.25,"v":140},{"s":"mCP","t":0.275,"v":105},{"s":"mCP","t":0.3,"v":78},{"s":"mCP","t":0.35,"v":49},{"s":"mCP","t":0.4,"v":34},{"s":"mCP","t":0.45,"v":24.7},{"s":"mCP","t":0.5,"v":17.6},{"s":"mCP","t":0.55,"v":13},{"s":"mCP","t":0.6,"v":8.5},{"s":"mCP","t":0.65,"v":6.2},{"s":"mCP","t":0.7,"v":4.7},{"s":"mCP","t":0.75,"v":3.9},{"s":"mCP","t":0.8,"v":3.3},{"s":"mCP","t":0.85,"v":2.87},{"s":"mCP","t":0.9,"v":2.7},{"s":"mCP","t":0.95,"v":2.53},{"s":"mCP","t":1.0,"v":2.38},
{"s":"mCP-Br","t":0.105,"v":9000},{"s":"mCP-Br","t":0.11,"v":5900},{"s":"mCP-Br","t":0.12,"v":2700},{"s":"mCP-Br","t":0.13,"v":1700},{"s":"mCP-Br","t":0.14,"v":1300},{"s":"mCP-Br","t":0.15,"v":1050},{"s":"mCP-Br","t":0.165,"v":810},{"s":"mCP-Br","t":0.18,"v":650},{"s":"mCP-Br","t":0.2,"v":490},{"s":"mCP-Br","t":0.225,"v":351},{"s":"mCP-Br","t":0.25,"v":252},{"s":"mCP-Br","t":0.275,"v":193},{"s":"mCP-Br","t":0.3,"v":149},{"s":"mCP-Br","t":0.35,"v":96.5},{"s":"mCP-Br","t":0.4,"v":66.8},{"s":"mCP-Br","t":0.45,"v":48.5},{"s":"mCP-Br","t":0.5,"v":30.4},{"s":"mCP-Br","t":0.55,"v":21.3},{"s":"mCP-Br","t":0.6,"v":15.4},{"s":"mCP-Br","t":0.65,"v":11.1},{"s":"mCP-Br","t":0.7,"v":8.0},{"s":"mCP-Br","t":0.75,"v":6.15},{"s":"mCP-Br","t":0.8,"v":4.83},{"s":"mCP-Br","t":0.85,"v":3.88},{"s":"mCP-Br","t":0.9,"v":3.36},{"s":"mCP-Br","t":0.95,"v":2.91},{"s":"mCP-Br","t":1.0,"v":2.55},
{"s":"mCP-I","t":0.105,"v":10000},{"s":"mCP-I","t":0.11,"v":7800},{"s":"mCP-I","t":0.12,"v":5700},{"s":"mCP-I","t":0.13,"v":4300},{"s":"mCP-I","t":0.14,"v":3300},{"s":"mCP-I","t":0.15,"v":2600},{"s":"mCP-I","t":0.165,"v":1900},{"s":"mCP-I","t":0.18,"v":1310},{"s":"mCP-I","t":0.2,"v":960},{"s":"mCP-I","t":0.225,"v":695},{"s":"mCP-I","t":0.25,"v":500},{"s":"mCP-I","t":0.275,"v":347},{"s":"mCP-I","t":0.3,"v":249},{"s":"mCP-I","t":0.35,"v":147},{"s":"mCP-I","t":0.4,"v":89},{"s":"mCP-I","t":0.45,"v":57},{"s":"mCP-I","t":0.5,"v":36},{"s":"mCP-I","t":0.55,"v":22.3},{"s":"mCP-I","t":0.6,"v":14.3},{"s":"mCP-I","t":0.65,"v":9.6},{"s":"mCP-I","t":0.7,"v":6.45},{"s":"mCP-I","t":0.75,"v":5.0},{"s":"mCP-I","t":0.8,"v":3.95},{"s":"mCP-I","t":0.85,"v":3.2},{"s":"mCP-I","t":0.9,"v":2.85},{"s":"mCP-I","t":0.95,"v":2.53},{"s":"mCP-I","t":1.0,"v":2.28},
{"s":"mCP-Br₂","t":0.105,"v":10000},{"s":"mCP-Br₂","t":0.11,"v":7500},{"s":"mCP-Br₂","t":0.12,"v":4600},{"s":"mCP-Br₂","t":0.13,"v":3100},{"s":"mCP-Br₂","t":0.14,"v":2150},{"s":"mCP-Br₂","t":0.15,"v":1550},{"s":"mCP-Br₂","t":0.165,"v":1070},{"s":"mCP-Br₂","t":0.18,"v":740},{"s":"mCP-Br₂","t":0.2,"v":505},{"s":"mCP-Br₂","t":0.225,"v":340},{"s":"mCP-Br₂","t":0.25,"v":235},{"s":"mCP-Br₂","t":0.275,"v":163},{"s":"mCP-Br₂","t":0.3,"v":114},{"s":"mCP-Br₂","t":0.35,"v":63},{"s":"mCP-Br₂","t":0.4,"v":38.3},{"s":"mCP-Br₂","t":0.45,"v":24.6},{"s":"mCP-Br₂","t":0.5,"v":15.7},{"s":"mCP-Br₂","t":0.55,"v":10},{"s":"mCP-Br₂","t":0.6,"v":6.85},{"s":"mCP-Br₂","t":0.65,"v":5.1},{"s":"mCP-Br₂","t":0.7,"v":3.8},{"s":"mCP-Br₂","t":0.75,"v":3.25},{"s":"mCP-Br₂","t":0.8,"v":2.87},{"s":"mCP-Br₂","t":0.85,"v":2.58},{"s":"mCP-Br₂","t":0.9,"v":2.45},{"s":"mCP-Br₂","t":0.95,"v":2.32},{"s":"mCP-Br₂","t":1.0,"v":2.2},
{"s":"mCP-Br₃","t":0.105,"v":9500},{"s":"mCP-Br₃","t":0.11,"v":6800},{"s":"mCP-Br₃","t":0.12,"v":3700},{"s":"mCP-Br₃","t":0.13,"v":2300},{"s":"mCP-Br₃","t":0.14,"v":1650},{"s":"mCP-Br₃","t":0.15,"v":1250},{"s":"mCP-Br₃","t":0.165,"v":860},{"s":"mCP-Br₃","t":0.18,"v":610},{"s":"mCP-Br₃","t":0.2,"v":410},{"s":"mCP-Br₃","t":0.225,"v":265},{"s":"mCP-Br₃","t":0.25,"v":196},{"s":"mCP-Br₃","t":0.275,"v":137},{"s":"mCP-Br₃","t":0.3,"v":96},{"s":"mCP-Br₃","t":0.35,"v":53},{"s":"mCP-Br₃","t":0.4,"v":30.6},{"s":"mCP-Br₃","t":0.45,"v":16.7},{"s":"mCP-Br₃","t":0.5,"v":10},{"s":"mCP-Br₃","t":0.55,"v":6},{"s":"mCP-Br₃","t":0.6,"v":4.1},{"s":"mCP-Br₃","t":0.65,"v":3.4},{"s":"mCP-Br₃","t":0.7,"v":2.7},{"s":"mCP-Br₃","t":0.75,"v":2.5},{"s":"mCP-Br₃","t":0.8,"v":2.3},{"s":"mCP-Br₃","t":0.85,"v":2.2},{"s":"mCP-Br₃","t":0.9,"v":2.16},{"s":"mCP-Br₃","t":0.95,"v":2.13},{"s":"mCP-Br₃","t":1.0,"v":2.1},
{"s":"mCP-Br₅","t":0.105,"v":10000},{"s":"mCP-Br₅","t":0.11,"v":7600},{"s":"mCP-Br₅","t":0.12,"v":4800},{"s":"mCP-Br₅","t":0.13,"v":3300},{"s":"mCP-Br₅","t":0.14,"v":2400},{"s":"mCP-Br₅","t":0.15,"v":1800},{"s":"mCP-Br₅","t":0.165,"v":1270},{"s":"mCP-Br₅","t":0.18,"v":880},{"s":"mCP-Br₅","t":0.2,"v":600},{"s":"mCP-Br₅","t":0.225,"v":384},{"s":"mCP-Br₅","t":0.25,"v":245},{"s":"mCP-Br₅","t":0.275,"v":168},{"s":"mCP-Br₅","t":0.3,"v":115},{"s":"mCP-Br₅","t":0.35,"v":59.3},{"s":"mCP-Br₅","t":0.4,"v":32.7},{"s":"mCP-Br₅","t":0.45,"v":18.6},{"s":"mCP-Br₅","t":0.5,"v":10.9},{"s":"mCP-Br₅","t":0.55,"v":6.5},{"s":"mCP-Br₅","t":0.6,"v":4.43},{"s":"mCP-Br₅","t":0.65,"v":3.53},{"s":"mCP-Br₅","t":0.7,"v":2.76},{"s":"mCP-Br₅","t":0.75,"v":2.6},{"s":"mCP-Br₅","t":0.8,"v":2.4},{"s":"mCP-Br₅","t":0.85,"v":2.3},{"s":"mCP-Br₅","t":0.9,"v":2.24},{"s":"mCP-Br₅","t":0.95,"v":2.19},{"s":"mCP-Br₅","t":1.0,"v":2.15}
]
},
"resolve":{"axis":{"x":"independent","y":"independent"}},
"layer":[
{"data":{"name":"fit"},"mark":{"type":"point","opacity":0},
 "encoding":{
  "x":{"field":"t","type":"quantitative","scale":{"domain":[0,1],"nice":false,"zero":false},"axis":{"orient":"bottom","values":[0,0.2,0.4,0.6,0.8,1.0],"format":".1f","ticks":false,"labelFontSize":16.5,"labelPadding":8,"labelFlush":false,"title":"time (ms)","titleFontSize":20,"titleFontWeight":"normal","titlePadding":9}},
  "y":{"field":"v","type":"quantitative","scale":{"type":"log","domain":[2.05,68000],"nice":false},"axis":{"orient":"left","values":[10,100,1000,10000],"format":"d","labelExpr":"'10'","ticks":false,"labelFontSize":16.5,"labelPadding":16,"title":"PL Intensity (counts)","titleFontSize":20,"titleFontWeight":"normal","titlePadding":12}}}},
{"data":{"name":"fit"},"mark":{"type":"point","opacity":0},
 "encoding":{
  "x":{"field":"t","type":"quantitative","axis":{"orient":"bottom","values":[0.2,0.4,0.6,0.8],"labels":false,"tickSize":-7,"tickWidth":1.5,"title":null}},
  "y":{"field":"v","type":"quantitative","axis":{"orient":"left","values":[10,100,1000,10000],"labels":false,"tickSize":-7,"tickWidth":1.5,"title":null}}}},
{"data":{"name":"fit"},"mark":{"type":"point","opacity":0},
 "encoding":{
  "x":{"field":"t","type":"quantitative","axis":{"orient":"bottom","values":[0.1,0.3,0.5,0.7,0.9],"labels":false,"tickSize":-4,"tickWidth":1.5,"title":null}},
  "y":{"field":"v","type":"quantitative","axis":{"orient":"left","values":[3,4,5,6,7,8,9,20,30,40,50,60,70,80,90,200,300,400,500,600,700,800,900,2000,3000,4000,5000,6000,7000,8000,9000,20000,30000,40000,50000,60000],"labels":false,"tickSize":-4,"tickWidth":1.2,"title":null}}}},
{"data":{"name":"fit"},"mark":{"type":"point","opacity":0},
 "encoding":{
  "x":{"field":"t","type":"quantitative","axis":{"orient":"top","values":[0.2,0.4,0.6,0.8],"labels":false,"tickSize":-7,"tickWidth":1.5,"title":null}},
  "y":{"field":"v","type":"quantitative","axis":{"orient":"right","values":[10,100,1000,10000],"format":"d","ticks":false,"labelFontSize":16.5,"labelPadding":9,"title":null}}}},
{"data":{"name":"fit"},"mark":{"type":"point","opacity":0},
 "encoding":{
  "x":{"field":"t","type":"quantitative","axis":{"orient":"top","values":[0.1,0.3,0.5,0.7,0.9],"labels":false,"tickSize":-4,"tickWidth":1.5,"title":null}},
  "y":{"field":"v","type":"quantitative","axis":{"orient":"right","values":[10,100,1000,10000],"labels":false,"tickSize":-7,"tickWidth":1.5,"title":null}}}},
{"data":{"name":"fit"},"mark":{"type":"point","opacity":0},
 "encoding":{
  "x":{"field":"t","type":"quantitative","axis":null},
  "y":{"field":"v","type":"quantitative","axis":{"orient":"right","values":[3,4,5,6,7,8,9,20,30,40,50,60,70,80,90,200,300,400,500,600,700,800,900,2000,3000,4000,5000,6000,7000,8000,9000,20000,30000,40000,50000,60000],"labels":false,"tickSize":-4,"tickWidth":1.2,"title":null}}}},
{"data":{"name":"fit"},"mark":{"type":"point","opacity":0},
 "encoding":{
  "x":{"field":"t","type":"quantitative","axis":null},
  "y":{"field":"v","type":"quantitative","axis":{"orient":"left","values":[10,100,1000,10000],"labelExpr":"datum.value == 10 ? '1' : datum.value == 100 ? '2' : datum.value == 1000 ? '3' : '4'","ticks":false,"labelFontSize":12,"labelPadding":7,"labelOffset":-7,"title":null}}}},
{"data":{"name":"raw"},"mark":{"type":"line","clip":true,"strokeWidth":1.4},
 "encoding":{
  "x":{"field":"t","type":"quantitative","axis":null},
  "y":{"field":"v","type":"quantitative","axis":null},
  "color":{"field":"s","type":"nominal","sort":null,
   "scale":{"domain":["mCP","mCP-Br","mCP-I","mCP-Br₂","mCP-Br₃","mCP-Br₅"],"range":["#505050","#f04444","#1f6fe0","#38a86c","#b27be8","#d4a00c"]},
   "legend":{"orient":"none","legendX":327,"legendY":52,"title":null,"symbolType":"M-3,0H3","symbolSize":256,"symbolStrokeWidth":1.5,"labelFontSize":21,"labelOffset":18,"rowPadding":7,"padding":0,"labelColor":"#000"}}}},
{"data":{"name":"fit"},"mark":{"type":"line","clip":true,"strokeWidth":2.8},
 "encoding":{
  "x":{"field":"t","type":"quantitative","axis":null},
  "y":{"field":"v","type":"quantitative","axis":null},
  "color":{"field":"s","type":"nominal","legend":null}}}
]
}
